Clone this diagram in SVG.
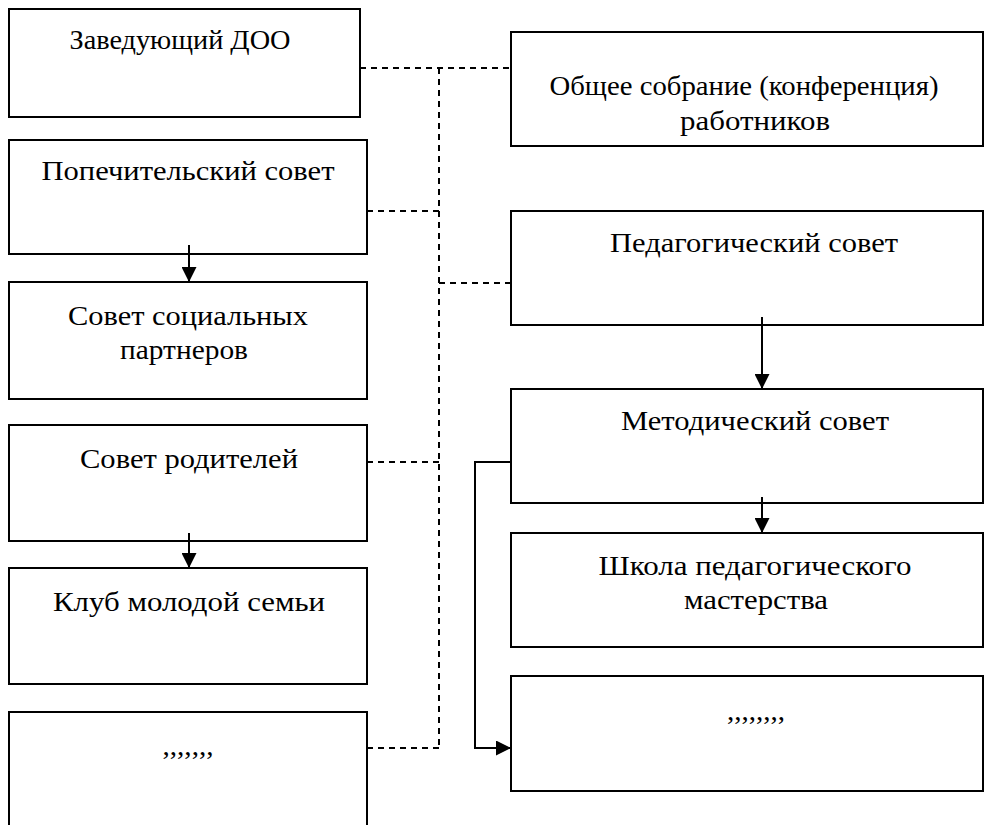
<svg xmlns="http://www.w3.org/2000/svg" width="990" height="825" viewBox="0 0 990 825">
<defs>
<style>
.box{fill:#fff;stroke:#000;stroke-width:2}
.t{font-family:'Liberation Serif','Times New Roman',serif;font-size:27px;fill:#000;text-anchor:middle}
.dash{fill:none;stroke:#000;stroke-width:2;stroke-dasharray:6 5}
.solid{fill:none;stroke:#000;stroke-width:2}
</style>
<marker id="ah" viewBox="0 0 10 10" refX="10" refY="5" markerWidth="8" markerHeight="7.5" orient="auto" markerUnits="strokeWidth">
<path d="M0,0 L10,5 L0,10 Z" fill="#000"/>
</marker>
</defs>
<rect width="990" height="825" fill="#fff"/>
<g id="n1"><rect class="box" x="9" y="9" width="351" height="108"/><text class="t" x="180" y="49" textLength="221" lengthAdjust="spacingAndGlyphs">Заведующий ДОО</text></g>
<g id="n2"><rect class="box" x="9" y="140" width="358" height="114"/><text class="t" x="188" y="180" textLength="293" lengthAdjust="spacingAndGlyphs">Попечительский совет</text></g>
<g id="n3"><rect class="box" x="9" y="282" width="358" height="117"/><text class="t" x="188" y="325" textLength="240" lengthAdjust="spacingAndGlyphs">Совет социальных</text><text class="t" x="184" y="359" textLength="128" lengthAdjust="spacingAndGlyphs">партнеров</text></g>
<g id="n4"><rect class="box" x="9" y="425" width="358" height="116"/><text class="t" x="189" y="468" textLength="218" lengthAdjust="spacingAndGlyphs">Совет родителей</text></g>
<g id="n5"><rect class="box" x="9" y="568" width="358" height="116"/><text class="t" x="189" y="611" textLength="272" lengthAdjust="spacingAndGlyphs">Клуб молодой семьи</text></g>
<g id="n6"><path class="box" d="M9,830 L9,712 L367,712 L367,830"/><text class="t" x="188" y="755" textLength="51" lengthAdjust="spacingAndGlyphs">,,,,,,,</text></g>
<g id="n7"><rect class="box" x="511" y="32" width="472" height="114"/><text class="t" x="744" y="95" textLength="389" lengthAdjust="spacingAndGlyphs">Общее собрание (конференция)</text><text class="t" x="755" y="130" textLength="150" lengthAdjust="spacingAndGlyphs">работников</text></g>
<g id="n8"><rect class="box" x="511" y="211" width="472" height="114"/><text class="t" x="754" y="252" textLength="288" lengthAdjust="spacingAndGlyphs">Педагогический совет</text></g>
<g id="n9"><rect class="box" x="511" y="389" width="472" height="114"/><text class="t" x="755" y="430" textLength="268" lengthAdjust="spacingAndGlyphs">Методический совет</text></g>
<g id="n10"><rect class="box" x="511" y="533" width="472" height="114"/><text class="t" x="755" y="575" textLength="313" lengthAdjust="spacingAndGlyphs">Школа педагогического</text><text class="t" x="756" y="609" textLength="144" lengthAdjust="spacingAndGlyphs">мастерства</text></g>
<g id="n11"><rect class="box" x="511" y="676" width="472" height="115"/><text class="t" x="756" y="720" textLength="58" lengthAdjust="spacingAndGlyphs">,,,,,,,,</text></g>
<g id="connectors">
<path class="dash" d="M439,68 L439,748"/>
<path class="dash" d="M360,68 L511,68"/>
<path class="dash" d="M367,211 L439,211"/>
<path class="dash" d="M439,283 L511,283"/>
<path class="dash" d="M367,462 L439,462"/>
<path class="dash" d="M367,748 L439,748"/>
<path class="solid" d="M189,245 L189,282" marker-end="url(#ah)"/>
<path class="solid" d="M189,533 L189,568" marker-end="url(#ah)"/>
<path class="solid" d="M762,317 L762,389" marker-end="url(#ah)"/>
<path class="solid" d="M762,497 L762,533" marker-end="url(#ah)"/>
<path class="solid" d="M511,462 L475,462 L475,748 L511,748" marker-end="url(#ah)"/>
</g>
</svg>
